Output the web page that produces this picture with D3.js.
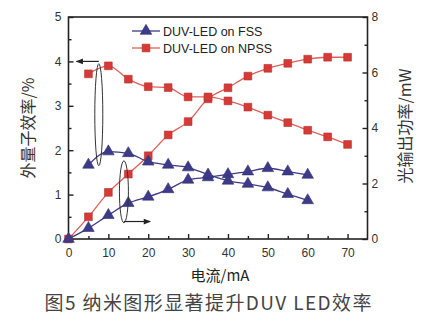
<!DOCTYPE html>
<html><head><meta charset="utf-8">
<script src="https://cdn.jsdelivr.net/npm/d3@7"></script>
<style>body{margin:0;background:#fff}</style>
</head><body>
<svg id="c" width="427" height="324"></svg>
<script>
const currentFSS = [5,10,15,20,25,30,35,40,45,50,55,60];
const eqeFSS     = [1.67,1.97,1.93,1.74,1.67,1.61,1.45,1.31,1.24,1.16,1.01,0.87];
const currentPwFSS = [0,5,10,15,20,25,30,35,40,45,50,55,60];
const powerFSS   = [0,0.39,0.86,1.29,1.52,1.79,2.13,2.22,2.33,2.43,2.55,2.43,2.31];
const currentNPSS = [5,10,15,20,25,30,35,40,45,50,55,60,65,70];
const eqeNPSS    = [3.72,3.9,3.6,3.43,3.41,3.2,3.2,3.11,2.97,2.79,2.62,2.45,2.3,2.13];
const currentPwNPSS = [0,5,10,15,20,25,30,35,40,45,50,55,60,65,70];
const powerNPSS  = [0,0.8,1.68,2.34,3.0,3.75,4.23,5.05,5.45,5.87,6.15,6.33,6.48,6.55,6.55];
const xTicks = [0,10,20,30,40,50,60,70];
const yLeftTicks = [0,1,2,3,4,5];
const yRightTicks = [0,2,4,6,8];
const legendLabels = ["DUV-LED on FSS","DUV-LED on NPSS"];

const svg = d3.select("#c");
const L=68.5, R=367.5, T=17, B=239;
const x = d3.scaleLinear().domain([0,75]).range([L,R]);
const yL = d3.scaleLinear().domain([0,5]).range([B,T]);
const yR = d3.scaleLinear().domain([0,8]).range([B,T]);
const red="#d63a36", redLine="#e0605a", blue="#3d3a88";
const tickFont = "Arial, 'Liberation Sans', sans-serif";
const fmt = d3.format("d");

// axes
const ax = (g)=>g.selectAll(".domain").remove();
const bottom = svg.append("g").attr("transform",`translate(0,${B})`)
  .call(d3.axisBottom(x).tickValues(xTicks).tickSize(-5).tickPadding(9).tickFormat(fmt));
const bottomMinor = svg.append("g").attr("transform",`translate(0,${B})`)
  .call(d3.axisBottom(x).tickValues(d3.range(5,75,10)).tickSize(-3).tickFormat(""));
const left = svg.append("g").attr("transform",`translate(${L},0)`)
  .call(d3.axisLeft(yL).tickValues(yLeftTicks).tickSize(-5).tickPadding(7).tickFormat(fmt));
const leftMinor = svg.append("g").attr("transform",`translate(${L},0)`)
  .call(d3.axisLeft(yL).tickValues(d3.range(0.5,5,1)).tickSize(-3).tickFormat(""));
const right = svg.append("g").attr("transform",`translate(${R},0)`)
  .call(d3.axisRight(yR).tickValues(yRightTicks).tickSize(-5).tickPadding(4).tickFormat(fmt));
const rightMinor = svg.append("g").attr("transform",`translate(${R},0)`)
  .call(d3.axisRight(yR).tickValues(d3.range(1,8,2)).tickSize(-3).tickFormat(""));
[bottom,bottomMinor,left,leftMinor,right,rightMinor].forEach(g=>{
  ax(g);
  g.selectAll("line").attr("stroke","#222").attr("stroke-width",1.4);
  g.selectAll("text").attr("font-family",tickFont).attr("font-size",12).attr("fill","#333");
});
svg.append("rect").attr("x",L).attr("y",T).attr("width",R-L).attr("height",B-T)
  .attr("fill","none").attr("stroke","#222").attr("stroke-width",1.6);

// lines
const line = (xs,ys,sc)=>d3.line().curve(d3.curveMonotoneX)(xs.map((v,i)=>[x(v),sc(ys[i])]));
function series(xs,ys,sc,col,lcol,sym,size){
  svg.append("path").attr("d",line(xs,ys,sc)).attr("fill","none").attr("stroke",lcol).attr("stroke-width",1.3);
  svg.append("g").selectAll("path").data(xs).join("path")
    .attr("transform",(d,i)=>`translate(${x(d)},${sc(ys[i])})`)
    .attr("d",d3.symbol().type(sym).size(size))
    .attr("fill",col).attr("stroke",d3.color(col).darker(0.5)).attr("stroke-width",0.6);
}
series(currentPwNPSS,powerNPSS,yR,red,redLine,d3.symbolSquare,60);
series(currentNPSS,eqeNPSS,yL,red,redLine,d3.symbolSquare,60);
series(currentPwFSS,powerFSS,yR,blue,blue,d3.symbolTriangle,58);
series(currentFSS,eqeFSS,yL,blue,blue,d3.symbolTriangle,58);

// ellipses and arrows
svg.append("defs").append("marker").attr("id","ah").attr("viewBox","0 0 10 10")
  .attr("refX",9).attr("refY",5).attr("markerWidth",7).attr("markerHeight",6).attr("orient","auto")
  .append("path").attr("d","M0,1 L10,5 L0,9 Z").attr("fill","#222");
svg.append("ellipse").attr("cx",x(7.6)).attr("cy",yL(2.8)).attr("rx",4).attr("ry",51)
  .attr("fill","none").attr("stroke","#333").attr("stroke-width",1);
svg.append("line").attr("x1",x(7.6)).attr("y1",yL(4.0)).attr("x2",x(2)).attr("y2",yL(4.0))
  .attr("stroke","#222").attr("stroke-width",1.2).attr("marker-end","url(#ah)");
svg.append("ellipse").attr("cx",x(13.9)).attr("cy",yR(1.7)).attr("rx",4.5).attr("ry",31)
  .attr("fill","none").attr("stroke","#333").attr("stroke-width",1);
svg.append("line").attr("x1",x(13.9)).attr("y1",yR(0.63)).attr("x2",x(20.5)).attr("y2",yR(0.63))
  .attr("stroke","#222").attr("stroke-width",1.2).attr("marker-end","url(#ah)");

// legend
const leg = [[blue,d3.symbolTriangle,58,blue],[red,d3.symbolSquare,60,redLine]];
leg.forEach((l,i)=>{
  const yy = 31 + i*17;
  svg.append("line").attr("x1",132).attr("x2",160).attr("y1",yy).attr("y2",yy).attr("stroke",l[3]).attr("stroke-width",1.3);
  svg.append("path").attr("transform",`translate(146,${yy})`).attr("d",d3.symbol().type(l[1]).size(l[2]))
    .attr("fill",l[0]).attr("stroke",d3.color(l[0]).darker(0.5)).attr("stroke-width",0.6);
  svg.append("text").attr("x",163).attr("y",yy+4.5).text(legendLabels[i])
    .attr("font-family",tickFont).attr("font-size",12.5).attr("fill","#222");
});

// axis titles
const cjk = "'Noto Sans CJK SC', sans-serif";
svg.append("text").attr("transform","translate(34,128) rotate(-90)").attr("text-anchor","middle")
  .attr("font-family",cjk).attr("font-size",16).attr("fill","#333").text("外量子效率/%");
svg.append("text").attr("transform","translate(411,126) rotate(-90)").attr("text-anchor","middle")
  .attr("font-family",cjk).attr("font-size",16).attr("fill","#333").text("光输出功率/mW");
svg.append("text").attr("x",220).attr("y",281).attr("text-anchor","middle")
  .attr("font-family",cjk).attr("font-size",15).attr("fill","#222").text("电流/mA");
svg.append("text").attr("x",208).attr("y",310).attr("text-anchor","middle")
  .attr("font-family",cjk).attr("font-size",19).attr("fill","#444")
  .attr("textLength",327).attr("lengthAdjust","spacing").text("图5 纳米图形显著提升DUV LED效率");
</script>
</body></html>
